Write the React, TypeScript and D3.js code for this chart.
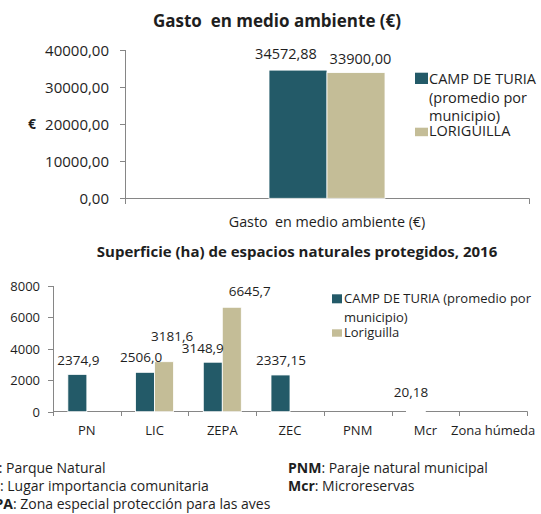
import React from "react";
import * as d3 from "d3";

// ---------- data ----------
const topCategories = ["Gasto  en medio ambiente (€)"];
const topCamp = [34572.88];
const topLori = [33900.0];
const topTicks = [0, 10000, 20000, 30000, 40000];

const categories = ["PN", "LIC", "ZEPA", "ZEC", "PNM", "Mcr", "Zona húmeda"];
const campValues: (number | null)[] = [2374.9, 2506.0, 3148.9, 2337.15, null, 20.18, null];
const loriValues: (number | null)[] = [null, 3181.6, 6645.7, null, null, null, null];
const campLabels: (string | null)[] = ["2374,9", "2506,0", "3148,9", "2337,15", null, "20,18", null];
const loriLabels: (string | null)[] = [null, "3181,6", "6645,7", null, null, null, null];
const bottomTicks = [0, 2000, 4000, 6000, 8000];

const seriesNamesTop = ["CAMP DE TURIA", "(promedio por", "municipio)", "LORIGUILLA"];
const seriesNamesBottom = ["CAMP DE TURIA (promedio por", "municipio)", "Loriguilla"];

const notesLeft = [
  ["PN", ": Parque Natural"],
  ["LIC", ": Lugar importancia comunitaria"],
  ["ZEPA", ": Zona especial protección para las aves"],
];
const notesRight = [
  ["PNM", ": Paraje natural municipal"],
  ["Mcr", ": Microreservas"],
];

// ---------- style ----------
const TEAL = "#235A68";
const TAN = "#C4BD97";
const AXIS = "#868686";
const TXT = "#1e1e1e";
const FONT = "'Open Sans', 'Noto Sans', sans-serif";

// label offsets (dx, dy from bar top centre)
const topCampOff = [[-12, -11]];
const topLoriOff = [[4.5, -8.6]];
const campOff: (number[] | null)[] = [[1, -9.5], [-4, -10.7], [-10, -9], [0.5, -10], null, [-5, -14.5], null];
const loriOff: (number[] | null)[] = [null, [8, -21], [18, -11.5], null, null, null, null];

const locale = d3.formatLocale({ decimal: ",", thousands: "", grouping: [3], currency: ["", "€"] });
const fmt2 = locale.format(".2f");
const fmt0 = locale.format("d");

export default function App() {
  // top chart scales
  const xTop = d3.scaleBand<string>().domain(topCategories).range([125, 529]);
  const xTopSub = d3.scaleBand<string>().domain(["c", "l"]).range([0, xTop.bandwidth()]).paddingOuter(2.483);
  const yTop = d3.scaleLinear().domain([0, 40000]).range([198.3, 50]);

  // bottom chart scales
  const xB = d3.scaleBand<string>().domain(categories).range([53, 527]);
  const xBSub = d3.scaleBand<string>().domain(["c", "l"]).range([0, xB.bandwidth()]).paddingOuter(0.782);
  const yB = d3.scaleLinear().domain([0, 8000]).range([411.7, 286]);

  const bandEdgesB = categories.map((c) => xB(c)!).concat([xB.range()[1]]);

  return (
    <svg
      width={541}
      height={514}
      style={{ position: "absolute", left: 0, top: 0, background: "#fff" }}
      fontFamily={FONT}
    >
      <rect x={0} y={0} width={541} height={514} fill="#fff" />

      {/* ================= TOP CHART ================= */}
      <text x={277} y={27} textAnchor="middle" fontWeight="bold" fontSize={17} fill={TXT} style={{ whiteSpace: "pre" }}>
        Gasto  en medio ambiente (€)
      </text>

      {/* y axis */}
      <line x1={125.5} x2={125.5} y1={yTop(40000)} y2={204} stroke={AXIS} />
      {topTicks.map((t) => (
        <g key={t}>
          <line x1={120} x2={125.5} y1={Math.round(yTop(t)) + 0.5} y2={Math.round(yTop(t)) + 0.5} stroke={AXIS} />
          <text x={109} y={yTop(t) + 5.5} textAnchor="end" fontSize={15} fill={TXT}>
            {fmt2(t)}
          </text>
        </g>
      ))}
      <text x={32} y={129} textAnchor="middle" fontWeight="bold" fontSize={14} fill={TXT}>
        €
      </text>

      {/* x axis */}
      <line x1={125} x2={529.5} y1={198.5} y2={198.5} stroke={AXIS} />
      {xTop.range().map((r, i) => (
        <line key={i} x1={r + 0.5} x2={r + 0.5} y1={198.5} y2={204} stroke={AXIS} />
      ))}

      {topCategories.map((c, i) => {
        const x0 = xTop(c)!;
        const cx = x0 + xTopSub("c")!;
        const lx = x0 + xTopSub("l")!;
        const w = xTopSub.bandwidth();
        return (
          <g key={c}>
            <rect x={cx} y={yTop(topCamp[i])} width={w} height={yTop(0) - yTop(topCamp[i])} fill={TEAL} stroke="#fff" strokeWidth={0.8} />
            <rect x={lx} y={yTop(topLori[i])} width={w} height={yTop(0) - yTop(topLori[i])} fill={TAN} stroke="#fff" strokeWidth={0.8} />
            <text x={cx + w / 2 + topCampOff[i][0]} y={yTop(topCamp[i]) + topCampOff[i][1]} textAnchor="middle" fontSize={14.5} fill={TXT}>
              {fmt2(topCamp[i])}
            </text>
            <text x={lx + w / 2 + topLoriOff[i][0]} y={yTop(topLori[i]) + topLoriOff[i][1]} textAnchor="middle" fontSize={14.5} fill={TXT}>
              {fmt2(topLori[i])}
            </text>
            <text x={x0 + xTop.bandwidth() / 2} y={227} textAnchor="middle" fontSize={14.3} fill={TXT} style={{ whiteSpace: "pre" }}>
              {c}
            </text>
          </g>
        );
      })}

      {/* top legend */}
      <rect x={415} y={72.7} width={13} height={11.3} fill={TEAL} />
      <rect x={415} y={127.7} width={13} height={8.5} fill={TAN} />
      {[84, 103, 121, 135.5].map((y, i) => (
        <text key={i} x={429} y={y} fontSize={14.5} fill={TXT}>
          {seriesNamesTop[i]}
        </text>
      ))}

      {/* ================= BOTTOM CHART ================= */}
      <text x={297} y={257} textAnchor="middle" fontWeight="bold" fontSize={15} fill={TXT}>
        Superficie (ha) de espacios naturales protegidos, 2016
      </text>

      <line x1={53.5} x2={53.5} y1={yB(8000)} y2={416} stroke={AXIS} />
      {bottomTicks.map((t) => (
        <g key={t}>
          <line x1={48} x2={53.5} y1={Math.round(yB(t)) + 0.5} y2={Math.round(yB(t)) + 0.5} stroke={AXIS} />
          <text x={40} y={yB(t) + 5} textAnchor="end" fontSize={13} fill={TXT}>
            {fmt0(t)}
          </text>
        </g>
      ))}
      <line x1={53} x2={527.5} y1={411.5} y2={411.5} stroke={AXIS} />
      {bandEdgesB.map((e, i) => (
        <line key={i} x1={Math.round(e) + 0.5} x2={Math.round(e) + 0.5} y1={411.5} y2={416} stroke={AXIS} />
      ))}

      {categories.map((c, i) => {
        const x0 = xB(c)!;
        const w = xBSub.bandwidth();
        const cx = x0 + xBSub("c")!;
        const lx = x0 + xBSub("l")!;
        const cv = campValues[i];
        const lv = loriValues[i];
        return (
          <g key={c}>
            {cv !== null && (
              <rect x={cx} y={yB(cv)} width={w} height={yB(0) - yB(cv)} fill={TEAL} stroke="#fff" strokeWidth={0.8} />
            )}
            {lv !== null && (
              <rect x={lx} y={yB(lv)} width={w} height={yB(0) - yB(lv)} fill={TAN} stroke="#fff" strokeWidth={0.8} />
            )}
            {cv !== null && campLabels[i] && campOff[i] && (
              <text x={cx + w / 2 + campOff[i]![0]} y={yB(cv) + campOff[i]![1]} textAnchor="middle" fontSize={13.5} fill={TXT}>
                {campLabels[i]}
              </text>
            )}
            {lv !== null && loriLabels[i] && loriOff[i] && (
              <text x={lx + w / 2 + loriOff[i]![0]} y={yB(lv) + loriOff[i]![1]} textAnchor="middle" fontSize={13.5} fill={TXT}>
                {loriLabels[i]}
              </text>
            )}
            <text x={x0 + xB.bandwidth() / 2} y={435} textAnchor="middle" fontSize={13} fill={TXT}>
              {c}
            </text>
          </g>
        );
      })}

      {/* bottom legend */}
      <rect x={332} y={294.3} width={10} height={9} fill={TEAL} />
      <rect x={332} y={329.3} width={10} height={7.4} fill={TAN} />
      {[303.3, 321.7, 337].map((y, i) => (
        <text key={i} x={344} y={y} fontSize={13} fill={TXT}>
          {seriesNamesBottom[i]}
        </text>
      ))}

      {/* notes */}
      {notesLeft.map((n, i) => (
        <text key={i} x={-21.5} y={473 + i * 18} fontSize={14} fill={TXT}>
          <tspan fontWeight="bold">{n[0]}</tspan>
          <tspan>{n[1]}</tspan>
        </text>
      ))}
      {notesRight.map((n, i) => (
        <text key={i} x={288} y={473 + i * 18} fontSize={14} fill={TXT}>
          <tspan fontWeight="bold">{n[0]}</tspan>
          <tspan>{n[1]}</tspan>
        </text>
      ))}
    </svg>
  );
}
